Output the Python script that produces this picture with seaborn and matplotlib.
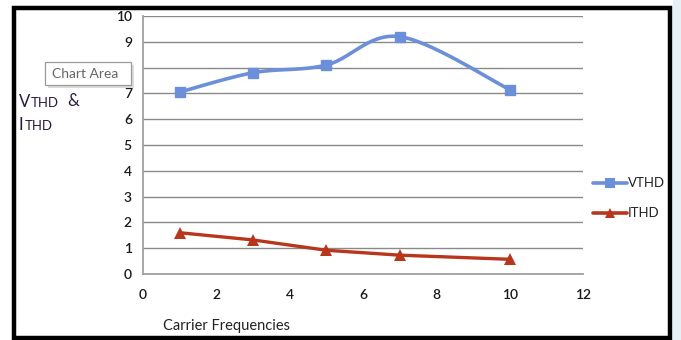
import numpy as np
import pandas as pd
import matplotlib
matplotlib.use("Agg")
import matplotlib.pyplot as plt
from matplotlib.patches import Rectangle
import seaborn as sns

# Harmonic distortion versus carrier frequency
carrier = [1, 3, 5, 7, 10]
vthd = [7.05, 7.8, 8.1, 9.2, 7.15]
ithd = [1.6, 1.32, 0.92, 0.73, 0.57]

x_ticks = [0, 2, 4, 6, 8, 10, 12]
y_ticks = list(range(0, 11))

VCOL = "#6b8fd9"
ICOL = "#b8361c"


def smooth_path(xs, ys, n=30):
    """Catmull-Rom style smoothing used for the smoothed-line series."""
    xs = np.asarray(xs, float)
    ys = np.asarray(ys, float)
    px = np.concatenate([[xs[0]], xs, [xs[-1]]])
    py = np.concatenate([[ys[0]], ys, [ys[-1]]])
    outx, outy = [], []
    for i in range(1, len(px) - 2):
        p0 = np.array([px[i - 1], py[i - 1]])
        p1 = np.array([px[i], py[i]])
        p2 = np.array([px[i + 1], py[i + 1]])
        p3 = np.array([px[i + 2], py[i + 2]])
        c1 = p1 + (p2 - p0) / 6.0
        c2 = p2 - (p3 - p1) / 6.0
        t = np.linspace(0, 1, n)[:, None]
        b = ((1 - t) ** 3) * p1 + 3 * ((1 - t) ** 2) * t * c1 + 3 * (1 - t) * t ** 2 * c2 + t ** 3 * p2
        outx.extend(b[:, 0])
        outy.extend(b[:, 1])
    return np.array(outx), np.array(outy)


sns.set_theme(style="white")
plt.rcParams["font.family"] = ["Lato", "DejaVu Sans"]

fig = plt.figure(figsize=(6.81, 3.40), dpi=100)
ax = fig.add_axes([143 / 681, 1 - 274 / 340, 440 / 681, 258 / 340])

sx, sy = smooth_path(carrier, vthd)
curve = pd.DataFrame({"x": sx, "y": sy})
sns.lineplot(data=curve, x="x", y="y", ax=ax, color=VCOL, lw=2.6, sort=False,
             estimator=None)
ax.plot(carrier, vthd, ls="none", marker="s", ms=7.5, color=VCOL)

pts = pd.DataFrame({"x": carrier, "y": ithd})
sns.lineplot(data=pts, x="x", y="y", ax=ax, color=ICOL, lw=2.4, marker="^",
             markersize=8, markeredgewidth=0, estimator=None)

ax.set_xlim(0, 12)
ax.set_ylim(0, 10)
ax.set_xticks(x_ticks)
ax.set_yticks(y_ticks)
ax.set_xticklabels([str(v) for v in x_ticks], fontsize=10, color="#1a1a1a",
                   fontweight="semibold")
ax.set_yticklabels([str(v) for v in y_ticks], fontsize=10, color="#1a1a1a",
                   fontweight="semibold")
ax.tick_params(axis="both", direction="out", length=5, width=1, color="#8a8a8a",
               pad=3)
ax.tick_params(axis="x", pad=6)
ax.grid(axis="y", color="#8a8a8a", lw=1)
ax.set_axisbelow(True)
for s in ["top", "right"]:
    ax.spines[s].set_visible(False)
for s in ["left", "bottom"]:
    ax.spines[s].set_color("#a0a0a0")
    ax.spines[s].set_linewidth(1.3)
ax.set_xlabel("")
ax.set_ylabel("")

# Axis titles
fig.text(163 / 681, 1 - 326 / 340, "Carrier Frequencies", fontsize=10.5,
         color="#222222", va="center", ha="left")
lab_col = "#2a1a40"
fig.text(19 / 681, 1 - 102 / 340, "V", fontsize=12, color=lab_col, va="center")
fig.text(31 / 681, 1 - 103 / 340, "THD", fontsize=9.5, color=lab_col, va="center")
fig.text(67 / 681, 1 - 101 / 340, "&", fontsize=12, color=lab_col, va="center")
fig.text(19 / 681, 1 - 125 / 340, "I", fontsize=12, color=lab_col, va="center")
fig.text(24.5 / 681, 1 - 126 / 340, "THD", fontsize=9.5, color=lab_col, va="center")

# Legend
leg_items = [("VTHD", VCOL, "s", 183), ("ITHD", ICOL, "^", 213)]
for name, col, mk, ypix in leg_items:
    yy = 1 - ypix / 340
    fig.add_artist(plt.Line2D([593 / 681, 627 / 681], [yy, yy], color=col, lw=2.6,
                              transform=fig.transFigure))
    fig.add_artist(plt.Line2D([610 / 681], [yy], color=col, marker=mk, ms=7.5,
                              mew=0, transform=fig.transFigure))
    fig.text(628 / 681, yy, name, fontsize=9.5, color="#222222", va="center")

# Hover label box with a soft shadow
fig.add_artist(Rectangle((48 / 681, 1 - 88 / 340), 86 / 681, 23 / 340,
                         transform=fig.transFigure, facecolor="#dcdcdc",
                         edgecolor="none", zorder=4))
fig.add_artist(Rectangle((45 / 681, 1 - 85 / 340), 86 / 681, 23 / 340,
                         transform=fig.transFigure, facecolor="white",
                         edgecolor="#9a9a9a", lw=0.9, zorder=5))
fig.text(52 / 681, 1 - 73.5 / 340, "Chart Area", fontsize=10, color="#666666",
         va="center", ha="left", zorder=6)

# Outer frame
fig.add_artist(Rectangle((14 / 681, 1 - 338 / 340), 656 / 681, 330 / 340,
                         transform=fig.transFigure, facecolor="none",
                         edgecolor="black", lw=3.2, zorder=6))
fig.add_artist(Rectangle((673 / 681, 0), 8 / 681, 1, transform=fig.transFigure,
                         facecolor="#e6f1f5", edgecolor="none", zorder=6))

fig.savefig("out.png", dpi=100)
